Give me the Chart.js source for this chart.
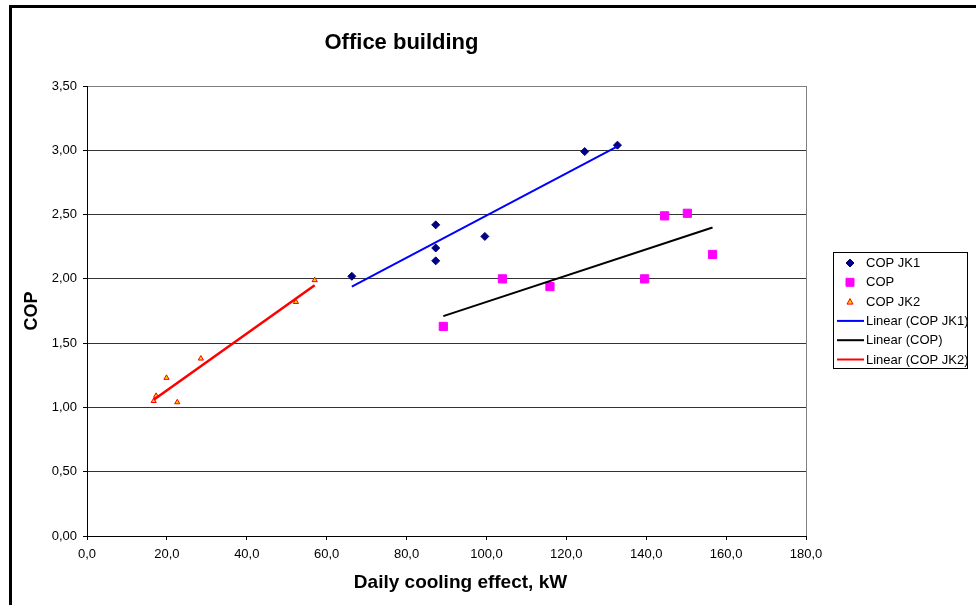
<!DOCTYPE html>
<html>
<head>
<meta charset="utf-8">
<script src="https://cdn.jsdelivr.net/npm/chart.js"></script>
<style>
  html, body { margin: 0; padding: 0; background: #fff; overflow: hidden; }
</style>
</head>
<body>
<canvas id="chart" width="976" height="605"></canvas>
<script>
const FONT = '"Liberation Sans", Arial, sans-serif';

// Values
const seriesNames = ['COP JK1', 'COP', 'COP JK2', 'Linear (COP JK1)', 'Linear (COP)', 'Linear (COP JK2)'];

const jk1X = [66.3, 87.3, 87.3, 87.3, 99.6, 124.6, 132.8];
const jk1Y = [2.02, 2.42, 2.24, 2.14, 2.33, 2.99, 3.04];

const copX = [89.2, 104.0, 115.9, 139.6, 144.6, 150.3, 156.6];
const copY = [1.63, 2.00, 1.94, 2.00, 2.49, 2.51, 2.19];

const jk2X = [16.7, 17.3, 19.9, 22.6, 28.5, 52.3, 57.0];
const jk2Y = [1.05, 1.09, 1.23, 1.04, 1.38, 1.82, 1.99];

// trendline end points (as drawn)
const trendJk1X = [66.3, 132.8];
const trendJk1Y = [1.94, 3.03];
const trendCopX = [89.2, 156.6];
const trendCopY = [1.71, 2.40];
const trendJk2X = [16.7, 57.0];
const trendJk2Y = [1.06, 1.95];

const xTickLabels = ['0,0', '20,0', '40,0', '60,0', '80,0', '100,0', '120,0', '140,0', '160,0', '180,0'];
const yTickLabels = ['0,00', '0,50', '1,00', '1,50', '2,00', '2,50', '3,00', '3,50'];

function pts(xs, ys) {
    return xs.map((x, i) => ({ x: x, y: ys[i] }));
}

// Draw a legend marker by hand
function marker(c, ds, x, y) {
    c.save();
    c.fillStyle = ds.backgroundColor;
    c.strokeStyle = ds.borderColor;
    c.lineWidth = 1;
    c.beginPath();
    if (ds.pointStyle === 'rectRot') {
        c.moveTo(x, y - 4); c.lineTo(x + 4, y); c.lineTo(x, y + 4); c.lineTo(x - 4, y);
    } else if (ds.pointStyle === 'rect') {
        c.rect(x - 4, y - 4, 8, 8);
    } else {
        c.moveTo(x, y - 3); c.lineTo(x + 3, y + 2.5); c.lineTo(x - 3, y + 2.5);
    }
    c.closePath();
    c.fill();
    c.stroke();
    c.restore();
}

const decorations = {
    id: 'decorations',
    beforeDraw(chart) {
        const c = chart.ctx;
        c.save();
        c.fillStyle = '#fff';
        c.fillRect(0, 0, chart.width, chart.height);
        // chart frame (left and top edges are visible)
        c.fillStyle = '#000';
        c.fillRect(9, 5, 3, 600);
        c.fillRect(9, 5, 967, 3);
        c.restore();
    },
    afterDraw(chart) {
        const c = chart.ctx;
        const a = chart.chartArea;
        c.save();
        // grey right edge of the plot area
        c.strokeStyle = '#808080';
        c.lineWidth = 1;
        c.beginPath();
        c.moveTo(Math.round(a.right) + 0.5, a.top);
        c.lineTo(Math.round(a.right) + 0.5, a.bottom);
        c.stroke();

        // titles
        c.fillStyle = '#000';
        c.textAlign = 'center';
        c.textBaseline = 'middle';
        c.font = 'bold 22px ' + FONT;
        c.fillText('Office building', 401.5, 43);
        c.font = 'bold 19px ' + FONT;
        c.fillText('Daily cooling effect, kW', 460.5, 583);

        // legend
        c.strokeStyle = '#000';
        c.strokeRect(833.5, 252.5, 134, 116);
        c.font = '13px ' + FONT;
        c.textAlign = 'left';
        chart.data.datasets.forEach((ds, i) => {
            const y = 263 + i * 19.3;
            if (ds.showLine) {
                c.strokeStyle = ds.borderColor;
                c.lineWidth = 2;
                c.beginPath();
                c.moveTo(837, y);
                c.lineTo(864, y);
                c.stroke();
            } else {
                marker(c, ds, 850, y);
            }
            c.fillStyle = '#000';
            c.fillText(ds.label, 866, y + 0.5);
        });
        c.restore();
    }
};

const ctx = document.getElementById('chart').getContext('2d');
new Chart(ctx, {
    type: 'scatter',
    data: {
        datasets: [
            { label: seriesNames[0], data: pts(jk1X, jk1Y), pointStyle: 'rectRot', pointRadius: 4,
              backgroundColor: '#000080', borderColor: '#000080', borderWidth: 1, order: 1 },
            { label: seriesNames[1], data: pts(copX, copY), pointStyle: 'rect', pointRadius: 5.8,
              backgroundColor: '#FF00FF', borderColor: '#FF00FF', borderWidth: 1, order: 1 },
            { label: seriesNames[2], data: pts(jk2X, jk2Y), pointStyle: 'triangle', pointRadius: 3,
              backgroundColor: '#FFCC00', borderColor: '#FF0000', borderWidth: 1, order: 1 },
            { label: seriesNames[3], data: pts(trendJk1X, trendJk1Y), showLine: true, pointRadius: 0,
              borderColor: '#0000FF', borderWidth: 2, backgroundColor: '#0000FF', order: 0 },
            { label: seriesNames[4], data: pts(trendCopX, trendCopY), showLine: true, pointRadius: 0,
              borderColor: '#000000', borderWidth: 2, backgroundColor: '#000000', order: 0 },
            { label: seriesNames[5], data: pts(trendJk2X, trendJk2Y), showLine: true, pointRadius: 0,
              borderColor: '#FF0000', borderWidth: 2.5, backgroundColor: '#FF0000', order: 0 }
        ]
    },
    options: {
        responsive: false,
        animation: false,
        events: [],
        layout: { padding: { left: 0, top: 86, right: 170, bottom: 0 } },
        plugins: {
            legend: { display: false },
            title: { display: false },
            tooltip: { enabled: false }
        },
        scales: {
            x: {
                type: 'linear',
                min: 0,
                max: 180,
                afterFit: (scale) => { scale.height = 69; },
                ticks: {
                    stepSize: 20,
                    padding: 7,
                    color: '#000',
                    font: { family: FONT, size: 13 },
                    maxRotation: 0,
                    callback: (v, i) => xTickLabels[i]
                },
                grid: { drawOnChartArea: false, drawTicks: true, tickLength: 4, tickColor: '#000' },
                border: { color: '#000', width: 1 }
            },
            y: {
                type: 'linear',
                min: 0,
                max: 3.5,
                afterFit: (scale) => { scale.width = 87; },
                ticks: {
                    stepSize: 0.5,
                    padding: 6,
                    color: '#000',
                    font: { family: FONT, size: 13 },
                    callback: (v, i) => yTickLabels[i]
                },
                grid: {
                    color: (c) => (c.tick && c.tick.value === 3.5 ? '#808080' : '#333'),
                    lineWidth: 1,
                    tickLength: 4,
                    tickColor: '#000'
                },
                border: { color: '#000', width: 1 },
                title: {
                    display: true,
                    text: 'COP',
                    color: '#000',
                    font: { family: FONT, size: 18, weight: 'bold' },
                    padding: { top: 21, bottom: 0 }
                }
            }
        }
    },
    plugins: [decorations]
});
</script>
</body>
</html>
